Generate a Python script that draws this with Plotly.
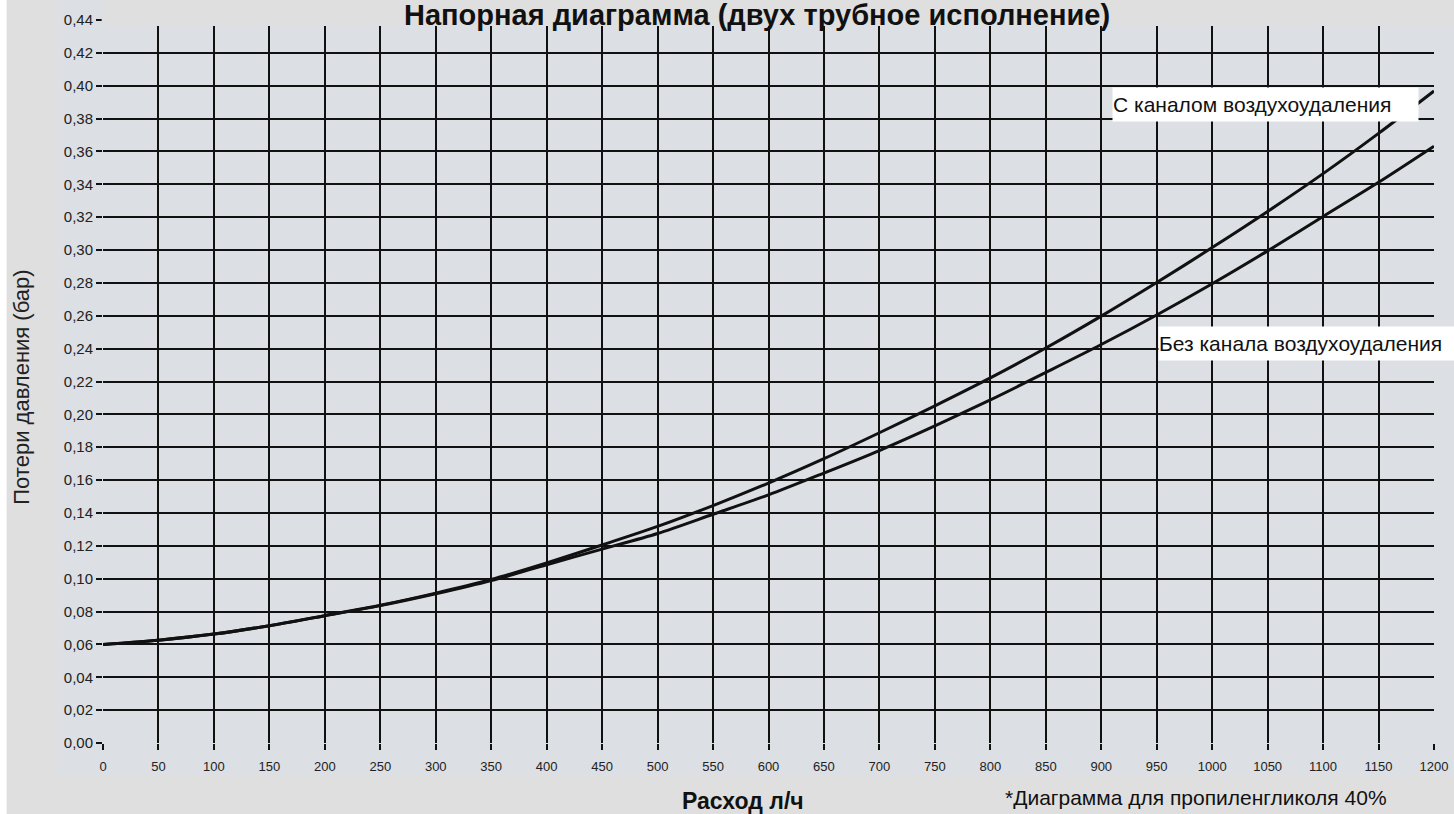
import plotly.graph_objects as go

# ---- data ----
flow = [0, 50, 100, 150, 200, 250, 300, 350, 400, 450, 500, 550, 600,
        650, 700, 750, 800, 850, 900, 950, 1000, 1050, 1100, 1150, 1200]
with_channel = [0.060, 0.0626, 0.0663, 0.0714, 0.0775, 0.0838, 0.0912, 0.0995,
                0.1096, 0.1205, 0.1318, 0.1445, 0.1582, 0.1730, 0.1888, 0.2052,
                0.2222, 0.2404, 0.2598, 0.2802, 0.3015, 0.3235, 0.3465, 0.3710, 0.3968]
without_channel = [0.060, 0.0626, 0.0663, 0.0714, 0.0775, 0.0836, 0.0908, 0.0988,
                   0.1085, 0.1180, 0.1275, 0.1392, 0.1510, 0.1643, 0.1780, 0.1930,
                   0.2088, 0.2255, 0.2425, 0.2605, 0.2795, 0.2995, 0.3204, 0.3412, 0.3632]
x_ticks = list(range(0, 1201, 50))
y_ticks = [round(i * 0.02, 2) for i in range(23)]

label_with = "С каналом воздухоудаления"
label_without = "Без канала воздухоудаления"
title_text = "Напорная диаграмма (двух трубное исполнение)"
x_title = "Расход л/ч"
y_title = "Потери давления (бар)"
footnote = "*Диаграмма для пропиленгликоля 40%"

FONT = "Liberation Sans, Arial, sans-serif"
PANEL = "#dcdfe3"
OUTER = "#dfdfdf"

fig = go.Figure()
for ys in (with_channel, without_channel):
    fig.add_trace(go.Scatter(x=flow, y=ys, mode="lines",
                             line=dict(color="#111111", width=3, shape="spline", smoothing=0.8),
                             showlegend=False, hoverinfo="skip"))

shapes = [
    # bluish panel
    dict(type="rect", xref="paper", yref="paper", x0=-0.0348, x1=1.02, y0=-0.0447, y1=0.9917,
         fillcolor=PANEL, line_width=0, layer="below"),
    dict(type="rect", xref="paper", yref="paper", x0=-0.0348, x1=0.0, y0=0.9917, y1=1.03,
         fillcolor=PANEL, line_width=0, layer="below"),
    # white strip on the far left
    dict(type="rect", xref="paper", yref="paper", x0=-0.08, x1=-0.0724, y0=-0.12, y1=1.05,
         fillcolor="white", line_width=0, layer="below"),
    # top band above the grid
    dict(type="rect", xref="paper", yref="paper", x0=-0.001, x1=1.02, y0=0.9917, y1=1.012,
         fillcolor=OUTER, line_width=0, layer="above"),
]

annotations = [
    dict(text=f"<b>{title_text}</b>", xref="paper", yref="paper", x=0.491, y=1.0065,
         xanchor="center", yanchor="middle", showarrow=False,
         font=dict(family=FONT, size=29, color="#111111")),
    dict(text=f"<b>{x_title}</b>", xref="paper", yref="paper", x=0.4806, y=-0.0807,
         xanchor="center", yanchor="middle", showarrow=False,
         font=dict(family=FONT, size=23, color="#111111")),
    dict(text=y_title, xref="paper", yref="paper", x=-0.0613, y=0.492, textangle=-90,
         xanchor="center", yanchor="middle", showarrow=False,
         font=dict(family=FONT, size=22, color="#222222")),
    dict(text=footnote, xref="paper", yref="paper", x=0.676, y=-0.0751,
         xanchor="left", yanchor="middle", showarrow=False,
         font=dict(family=FONT, size=21, color="#111111")),
    dict(text=label_with, x=909.4, y=0.3886, xref="x", yref="y",
         xanchor="left", yanchor="middle", showarrow=False, align="left",
         width=305, height=33, bgcolor="white", borderpad=0,
         font=dict(family=FONT, size=21, color="#111111")),
    dict(text=label_without, x=950.9, y=0.2430, xref="x", yref="y",
         xanchor="left", yanchor="middle", showarrow=False, align="left",
         width=296, height=33, bgcolor="white", borderpad=0,
         font=dict(family=FONT, size=21, color="#111111")),
]

fig.update_layout(
    width=1454, height=814,
    margin=dict(l=103, r=20, t=20, b=71, autoexpand=False),
    paper_bgcolor=OUTER, plot_bgcolor="rgba(0,0,0,0)",
    separators=", ",
    font=dict(family=FONT, color="#222222"),
    shapes=shapes, annotations=annotations,
    xaxis=dict(range=[0, 1200], tickmode="array", tickvals=x_ticks, tickformat="d",
               showgrid=True, gridcolor="#111111", gridwidth=2, zeroline=False,
               ticks="outside", ticklen=6, tickwidth=2, tickcolor="#111111",
               ticklabelstandoff=5,
               tickfont=dict(family=FONT, size=13, color="#222222"), showline=False),
    yaxis=dict(range=[0, 0.44], tickmode="array", tickvals=y_ticks, tickformat=".2f",
               showgrid=True, gridcolor="#111111", gridwidth=2, zeroline=False,
               ticks="outside", ticklen=6, tickwidth=2, tickcolor="#111111",
               tickfont=dict(family=FONT, size=15, color="#222222"), showline=False),
)

fig.write_html("out.html", config={"displayModeBar": False},
               post_script="document.body.style.margin='0';document.body.style.overflow='hidden';")
